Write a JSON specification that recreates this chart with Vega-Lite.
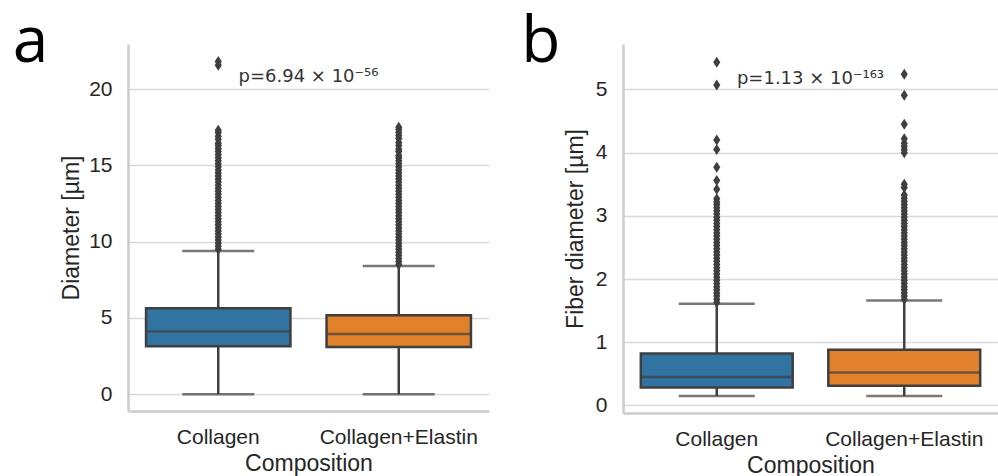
{
  "$schema": "https://vega.github.io/schema/vega-lite/v6.json",
  "autosize": {"type": "pad"},
  "padding": {"left": 12, "top": 11, "right": 0, "bottom": 0},
  "background": "white",
  "spacing": 32,
  "config": {
    "view": {"stroke": null},
    "font": "Liberation Sans",
    "axis": {
      "labelFont": "Liberation Sans", "titleFont": "Liberation Sans",
      "labelFontSize": 21, "titleFontSize": 23,
      "labelColor": "#262626", "titleColor": "#262626", "titleFontWeight": "normal",
      "ticks": false, "domainColor": "#cccccc", "domainWidth": 2.5,
      "gridColor": "#d9d9d9", "gridWidth": 1.5
    },
    "axisX": {"grid": false, "labelAngle": 0, "labelPadding": 15, "titlePadding": 5},
    "axisY": {"labelPadding": 16, "titlePadding": 5},
    "title": {"font": "Open Sans", "fontSize": 64, "fontWeight": "normal", "color": "#000000", "anchor": "start", "frame": "bounds", "baseline": "alphabetic"}
  },
  "datasets": {
    "a_box": [
      {"comp": "Collagen", "lo": 0, "q1": 3.15, "med": 4.11, "q3": 5.64, "hi": 9.38},
      {"comp": "Collagen+Elastin", "lo": 0, "q1": 3.1, "med": 3.95, "q3": 5.18, "hi": 8.41}
    ],
    "b_box": [
      {"comp": "Collagen", "lo": 0.15, "q1": 0.285, "med": 0.45, "q3": 0.82, "hi": 1.61},
      {"comp": "Collagen+Elastin", "lo": 0.15, "q1": 0.31, "med": 0.52, "q3": 0.88, "hi": 1.66}
    ],
    "a_note": [{"label": "p=6.94 × 10⁻⁵⁶", "y": 20.46}],
    "b_note": [{"label": "p=1.13 × 10⁻¹⁶³", "y": 5.08}],
    "a_out": [
      {"comp": "Collagen", "v": 9.5}, {"comp": "Collagen", "v": 9.7}, {"comp": "Collagen", "v": 9.9}, {"comp": "Collagen", "v": 10.1},
      {"comp": "Collagen", "v": 10.3}, {"comp": "Collagen", "v": 10.5}, {"comp": "Collagen", "v": 10.7}, {"comp": "Collagen", "v": 10.9},
      {"comp": "Collagen", "v": 11.1}, {"comp": "Collagen", "v": 11.3}, {"comp": "Collagen", "v": 11.5}, {"comp": "Collagen", "v": 11.7},
      {"comp": "Collagen", "v": 11.9}, {"comp": "Collagen", "v": 12.1}, {"comp": "Collagen", "v": 12.3}, {"comp": "Collagen", "v": 12.5},
      {"comp": "Collagen", "v": 12.7}, {"comp": "Collagen", "v": 12.9}, {"comp": "Collagen", "v": 13.1}, {"comp": "Collagen", "v": 13.3},
      {"comp": "Collagen", "v": 13.5}, {"comp": "Collagen", "v": 13.7}, {"comp": "Collagen", "v": 13.9}, {"comp": "Collagen", "v": 14.1},
      {"comp": "Collagen", "v": 14.3}, {"comp": "Collagen", "v": 14.5}, {"comp": "Collagen", "v": 14.7}, {"comp": "Collagen", "v": 14.9},
      {"comp": "Collagen", "v": 15.1}, {"comp": "Collagen", "v": 15.3}, {"comp": "Collagen", "v": 15.5}, {"comp": "Collagen", "v": 15.7},
      {"comp": "Collagen", "v": 15.9}, {"comp": "Collagen", "v": 16.1}, {"comp": "Collagen", "v": 16.3}, {"comp": "Collagen", "v": 16.45},
      {"comp": "Collagen", "v": 16.7}, {"comp": "Collagen", "v": 16.9}, {"comp": "Collagen", "v": 17.15}, {"comp": "Collagen", "v": 17.3},
      {"comp": "Collagen", "v": 21.55}, {"comp": "Collagen", "v": 21.8},
      {"comp": "Collagen+Elastin", "v": 8.5}, {"comp": "Collagen+Elastin", "v": 8.7}, {"comp": "Collagen+Elastin", "v": 8.9}, {"comp": "Collagen+Elastin", "v": 9.1},
      {"comp": "Collagen+Elastin", "v": 9.3}, {"comp": "Collagen+Elastin", "v": 9.5}, {"comp": "Collagen+Elastin", "v": 9.7}, {"comp": "Collagen+Elastin", "v": 9.9},
      {"comp": "Collagen+Elastin", "v": 10.1}, {"comp": "Collagen+Elastin", "v": 10.3}, {"comp": "Collagen+Elastin", "v": 10.5}, {"comp": "Collagen+Elastin", "v": 10.7},
      {"comp": "Collagen+Elastin", "v": 10.9}, {"comp": "Collagen+Elastin", "v": 11.1}, {"comp": "Collagen+Elastin", "v": 11.3}, {"comp": "Collagen+Elastin", "v": 11.5},
      {"comp": "Collagen+Elastin", "v": 11.7}, {"comp": "Collagen+Elastin", "v": 11.9}, {"comp": "Collagen+Elastin", "v": 12.1}, {"comp": "Collagen+Elastin", "v": 12.3},
      {"comp": "Collagen+Elastin", "v": 12.5}, {"comp": "Collagen+Elastin", "v": 12.7}, {"comp": "Collagen+Elastin", "v": 12.9}, {"comp": "Collagen+Elastin", "v": 13.1},
      {"comp": "Collagen+Elastin", "v": 13.3}, {"comp": "Collagen+Elastin", "v": 13.5}, {"comp": "Collagen+Elastin", "v": 13.7}, {"comp": "Collagen+Elastin", "v": 13.9},
      {"comp": "Collagen+Elastin", "v": 14.1}, {"comp": "Collagen+Elastin", "v": 14.3}, {"comp": "Collagen+Elastin", "v": 14.5}, {"comp": "Collagen+Elastin", "v": 14.7},
      {"comp": "Collagen+Elastin", "v": 14.9}, {"comp": "Collagen+Elastin", "v": 15.1}, {"comp": "Collagen+Elastin", "v": 15.3}, {"comp": "Collagen+Elastin", "v": 15.5},
      {"comp": "Collagen+Elastin", "v": 15.65}, {"comp": "Collagen+Elastin", "v": 15.9}, {"comp": "Collagen+Elastin", "v": 16.05}, {"comp": "Collagen+Elastin", "v": 16.3},
      {"comp": "Collagen+Elastin", "v": 16.5}, {"comp": "Collagen+Elastin", "v": 16.75}, {"comp": "Collagen+Elastin", "v": 16.95}, {"comp": "Collagen+Elastin", "v": 17.15},
      {"comp": "Collagen+Elastin", "v": 17.35}, {"comp": "Collagen+Elastin", "v": 17.5}
    ],
    "b_out": [
      {"comp": "Collagen", "v": 1.63}, {"comp": "Collagen", "v": 1.68}, {"comp": "Collagen", "v": 1.73}, {"comp": "Collagen", "v": 1.78},
      {"comp": "Collagen", "v": 1.83}, {"comp": "Collagen", "v": 1.88}, {"comp": "Collagen", "v": 1.93}, {"comp": "Collagen", "v": 1.98},
      {"comp": "Collagen", "v": 2.03}, {"comp": "Collagen", "v": 2.08}, {"comp": "Collagen", "v": 2.13}, {"comp": "Collagen", "v": 2.18},
      {"comp": "Collagen", "v": 2.23}, {"comp": "Collagen", "v": 2.28}, {"comp": "Collagen", "v": 2.33}, {"comp": "Collagen", "v": 2.38},
      {"comp": "Collagen", "v": 2.43}, {"comp": "Collagen", "v": 2.48}, {"comp": "Collagen", "v": 2.53}, {"comp": "Collagen", "v": 2.58},
      {"comp": "Collagen", "v": 2.63}, {"comp": "Collagen", "v": 2.68}, {"comp": "Collagen", "v": 2.73}, {"comp": "Collagen", "v": 2.78},
      {"comp": "Collagen", "v": 2.83}, {"comp": "Collagen", "v": 2.88}, {"comp": "Collagen", "v": 2.93}, {"comp": "Collagen", "v": 2.98},
      {"comp": "Collagen", "v": 3.03}, {"comp": "Collagen", "v": 3.08}, {"comp": "Collagen", "v": 3.13}, {"comp": "Collagen", "v": 3.18},
      {"comp": "Collagen", "v": 3.22}, {"comp": "Collagen", "v": 3.27}, {"comp": "Collagen", "v": 3.42}, {"comp": "Collagen", "v": 3.56},
      {"comp": "Collagen", "v": 3.77}, {"comp": "Collagen", "v": 4.05}, {"comp": "Collagen", "v": 4.2}, {"comp": "Collagen", "v": 5.07},
      {"comp": "Collagen", "v": 5.43},
      {"comp": "Collagen+Elastin", "v": 1.68}, {"comp": "Collagen+Elastin", "v": 1.73}, {"comp": "Collagen+Elastin", "v": 1.78}, {"comp": "Collagen+Elastin", "v": 1.83},
      {"comp": "Collagen+Elastin", "v": 1.88}, {"comp": "Collagen+Elastin", "v": 1.93}, {"comp": "Collagen+Elastin", "v": 1.98}, {"comp": "Collagen+Elastin", "v": 2.03},
      {"comp": "Collagen+Elastin", "v": 2.08}, {"comp": "Collagen+Elastin", "v": 2.13}, {"comp": "Collagen+Elastin", "v": 2.18}, {"comp": "Collagen+Elastin", "v": 2.23},
      {"comp": "Collagen+Elastin", "v": 2.28}, {"comp": "Collagen+Elastin", "v": 2.33}, {"comp": "Collagen+Elastin", "v": 2.38}, {"comp": "Collagen+Elastin", "v": 2.43},
      {"comp": "Collagen+Elastin", "v": 2.48}, {"comp": "Collagen+Elastin", "v": 2.53}, {"comp": "Collagen+Elastin", "v": 2.58}, {"comp": "Collagen+Elastin", "v": 2.63},
      {"comp": "Collagen+Elastin", "v": 2.68}, {"comp": "Collagen+Elastin", "v": 2.73}, {"comp": "Collagen+Elastin", "v": 2.78}, {"comp": "Collagen+Elastin", "v": 2.83},
      {"comp": "Collagen+Elastin", "v": 2.88}, {"comp": "Collagen+Elastin", "v": 2.93}, {"comp": "Collagen+Elastin", "v": 2.98}, {"comp": "Collagen+Elastin", "v": 3.03},
      {"comp": "Collagen+Elastin", "v": 3.08}, {"comp": "Collagen+Elastin", "v": 3.13}, {"comp": "Collagen+Elastin", "v": 3.18}, {"comp": "Collagen+Elastin", "v": 3.23},
      {"comp": "Collagen+Elastin", "v": 3.28}, {"comp": "Collagen+Elastin", "v": 3.33}, {"comp": "Collagen+Elastin", "v": 3.45}, {"comp": "Collagen+Elastin", "v": 3.5},
      {"comp": "Collagen+Elastin", "v": 4.0}, {"comp": "Collagen+Elastin", "v": 4.05}, {"comp": "Collagen+Elastin", "v": 4.1}, {"comp": "Collagen+Elastin", "v": 4.15},
      {"comp": "Collagen+Elastin", "v": 4.22}, {"comp": "Collagen+Elastin", "v": 4.45}, {"comp": "Collagen+Elastin", "v": 4.91}, {"comp": "Collagen+Elastin", "v": 5.24}
    ]
  },
  "hconcat": [
    {
      "title": {"text": "a", "dx": -48, "offset": -31},
      "width": 361,
      "height": 367,
      "layer": [
        {
          "data": {"name": "a_box"},
          "mark": {"type": "rule", "color": "#3f3f3f", "strokeWidth": 2.5},
          "encoding": {
            "x": {"field": "comp", "type": "nominal", "title": "Composition", "scale": {"domain": ["Collagen", "Collagen+Elastin"], "paddingInner": 0, "paddingOuter": 0}},
            "y": {"field": "lo", "type": "quantitative", "title": "Diameter [µm]", "scale": {"domain": [-1.1, 22.95], "nice": false, "zero": false}, "axis": {"values": [0, 5, 10, 15, 20]}},
            "y2": {"field": "hi"}
          }
        },
        {
          "data": {"name": "a_box"},
          "mark": {"type": "tick", "color": "#3f3f3f", "thickness": 2.5, "size": 72, "orient": "horizontal"},
          "encoding": {
            "x": {"field": "comp", "type": "nominal", "title": "Composition"},
            "y": {"field": "lo", "type": "quantitative", "title": "Diameter [µm]"}
          }
        },
        {
          "data": {"name": "a_box"},
          "mark": {"type": "tick", "color": "#3f3f3f", "thickness": 2.5, "size": 72, "orient": "horizontal"},
          "encoding": {
            "x": {"field": "comp", "type": "nominal", "title": "Composition"},
            "y": {"field": "hi", "type": "quantitative", "title": "Diameter [µm]"}
          }
        },
        {
          "data": {"name": "a_box"},
          "mark": {"type": "bar", "width": {"band": 0.8}, "stroke": "#3f3f3f", "strokeWidth": 2.5, "opacity": 1},
          "encoding": {
            "x": {"field": "comp", "type": "nominal", "title": "Composition"},
            "y": {"field": "q1", "type": "quantitative", "title": "Diameter [µm]"},
            "y2": {"field": "q3"},
            "fill": {"field": "comp", "type": "nominal", "scale": {"domain": ["Collagen", "Collagen+Elastin"], "range": ["#3274a1", "#e1812c"]}, "legend": null}
          }
        },
        {
          "data": {"name": "a_box"},
          "mark": {"type": "tick", "color": "#3f3f3f", "thickness": 2.5, "size": 143, "orient": "horizontal"},
          "encoding": {
            "x": {"field": "comp", "type": "nominal", "title": "Composition"},
            "y": {"field": "med", "type": "quantitative", "title": "Diameter [µm]"}
          }
        },
        {
          "data": {"name": "a_out"},
          "mark": {"type": "point", "shape": "M0,-1L0.65,0L0,1L-0.65,0Z", "filled": true, "color": "#3f3f3f", "opacity": 1, "size": 121},
          "encoding": {
            "x": {"field": "comp", "type": "nominal", "title": "Composition"},
            "y": {"field": "v", "type": "quantitative", "title": "Diameter [µm]"}
          }
        },
        {
          "data": {"name": "a_note"},
          "mark": {"type": "text", "font": "DejaVu Sans", "fontSize": 18, "color": "#333333", "baseline": "alphabetic", "align": "center"},
          "encoding": {
            "y": {"field": "y", "type": "quantitative", "title": "Diameter [µm]"},
            "text": {"field": "label"}
          }
        }
      ]
    },
    {
      "title": {"text": "b", "dx": -43, "offset": -31},
      "width": 375,
      "height": 369,
      "layer": [
        {
          "data": {"name": "b_box"},
          "mark": {"type": "rule", "color": "#3f3f3f", "strokeWidth": 2.5},
          "encoding": {
            "x": {"field": "comp", "type": "nominal", "title": "Composition", "scale": {"domain": ["Collagen", "Collagen+Elastin"], "paddingInner": 0, "paddingOuter": 0}},
            "y": {"field": "lo", "type": "quantitative", "title": "Fiber diameter [µm]", "scale": {"domain": [-0.12, 5.72], "nice": false, "zero": false}, "axis": {"values": [0, 1, 2, 3, 4, 5], "format": "d", "titlePadding": 8}},
            "y2": {"field": "hi"}
          }
        },
        {
          "data": {"name": "b_box"},
          "mark": {"type": "tick", "color": "#3f3f3f", "thickness": 2.5, "size": 76, "orient": "horizontal"},
          "encoding": {
            "x": {"field": "comp", "type": "nominal", "title": "Composition"},
            "y": {"field": "lo", "type": "quantitative", "title": "Fiber diameter [µm]"}
          }
        },
        {
          "data": {"name": "b_box"},
          "mark": {"type": "tick", "color": "#3f3f3f", "thickness": 2.5, "size": 76, "orient": "horizontal"},
          "encoding": {
            "x": {"field": "comp", "type": "nominal", "title": "Composition"},
            "y": {"field": "hi", "type": "quantitative", "title": "Fiber diameter [µm]"}
          }
        },
        {
          "data": {"name": "b_box"},
          "mark": {"type": "bar", "width": {"band": 0.81}, "stroke": "#3f3f3f", "strokeWidth": 2.5, "opacity": 1},
          "encoding": {
            "x": {"field": "comp", "type": "nominal", "title": "Composition"},
            "y": {"field": "q1", "type": "quantitative", "title": "Fiber diameter [µm]"},
            "y2": {"field": "q3"},
            "fill": {"field": "comp", "type": "nominal", "scale": {"domain": ["Collagen", "Collagen+Elastin"], "range": ["#3274a1", "#e1812c"]}, "legend": null}
          }
        },
        {
          "data": {"name": "b_box"},
          "mark": {"type": "tick", "color": "#3f3f3f", "thickness": 2.5, "size": 150, "orient": "horizontal"},
          "encoding": {
            "x": {"field": "comp", "type": "nominal", "title": "Composition"},
            "y": {"field": "med", "type": "quantitative", "title": "Fiber diameter [µm]"}
          }
        },
        {
          "data": {"name": "b_out"},
          "mark": {"type": "point", "shape": "M0,-1L0.65,0L0,1L-0.65,0Z", "filled": true, "color": "#3f3f3f", "opacity": 1, "size": 121},
          "encoding": {
            "x": {"field": "comp", "type": "nominal", "title": "Composition"},
            "y": {"field": "v", "type": "quantitative", "title": "Fiber diameter [µm]"}
          }
        },
        {
          "data": {"name": "b_note"},
          "mark": {"type": "text", "font": "DejaVu Sans", "fontSize": 18, "color": "#333333", "baseline": "alphabetic", "align": "center"},
          "encoding": {
            "y": {"field": "y", "type": "quantitative", "title": "Fiber diameter [µm]"},
            "text": {"field": "label"}
          }
        }
      ]
    }
  ]
}
